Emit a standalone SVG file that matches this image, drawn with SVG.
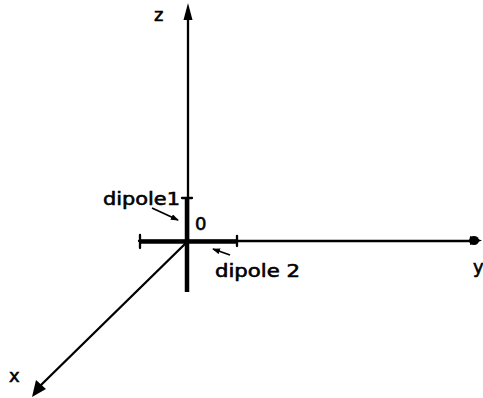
<svg xmlns="http://www.w3.org/2000/svg" width="483" height="398" viewBox="0 0 483 398">
<style>
.lbl{font-family:"DejaVu Sans","Liberation Sans",sans-serif;font-size:18px;fill:#000;stroke:#000;stroke-width:0.6}
.ax{stroke:#000;stroke-width:2.3;fill:none;stroke-linecap:round}
.thick{stroke:#000;stroke-width:4.5;fill:none}
.ptr{stroke:#000;stroke-width:1.8;fill:none}
</style>
<defs>
<marker id="ah" markerWidth="8" markerHeight="6" refX="7" refY="3" orient="auto" markerUnits="userSpaceOnUse">
<path d="M0,0 L8,3 L0,6 Z" fill="#000"/>
</marker>
</defs>
<rect width="483" height="398" fill="#fff"/>
<g id="connectors">
<path class="ax" d="M188,241 V14"/>
<path d="M188,3 L183.5,20 L192.5,20 Z" fill="#000"/>
<path class="ax" d="M139,241 H472"/>
<path d="M482,240.5 L470,236 L470,245 Z" fill="#000"/>
<ellipse cx="474" cy="240.5" rx="5" ry="4.5" fill="#000"/>
<path class="ax" d="M188,241 L41,385"/>
<path d="M32,397 L36,380 L46,389 Z" fill="#000"/>
<path class="ptr" d="M152,208 L178,220" marker-end="url(#ah)"/>
<path class="ptr" d="M230,255 L213,249" marker-end="url(#ah)"/>
</g>
<g id="dipole1">
<path class="thick" d="M187,197 V292"/>
<path class="ax" d="M182,198 H192"/>
<text class="lbl" x="103" y="205" textLength="77" lengthAdjust="spacingAndGlyphs">dipole1</text>
</g>
<g id="dipole2">
<path class="thick" d="M140,241.5 H237"/>
<path class="ax" d="M140,235 V248"/>
<path class="ax" d="M237,236 V246"/>
<text class="lbl" x="215" y="277" textLength="85" lengthAdjust="spacingAndGlyphs">dipole 2</text>
</g>
<g id="origin"><text class="lbl" x="195" y="230" font-size="19">0</text></g>
<g id="z-label"><text class="lbl" x="154" y="21" font-size="20">z</text></g>
<g id="y-label"><text class="lbl" x="473" y="273">y</text></g>
<g id="x-label"><text class="lbl" x="9" y="382" font-size="20">x</text></g>
</svg>
